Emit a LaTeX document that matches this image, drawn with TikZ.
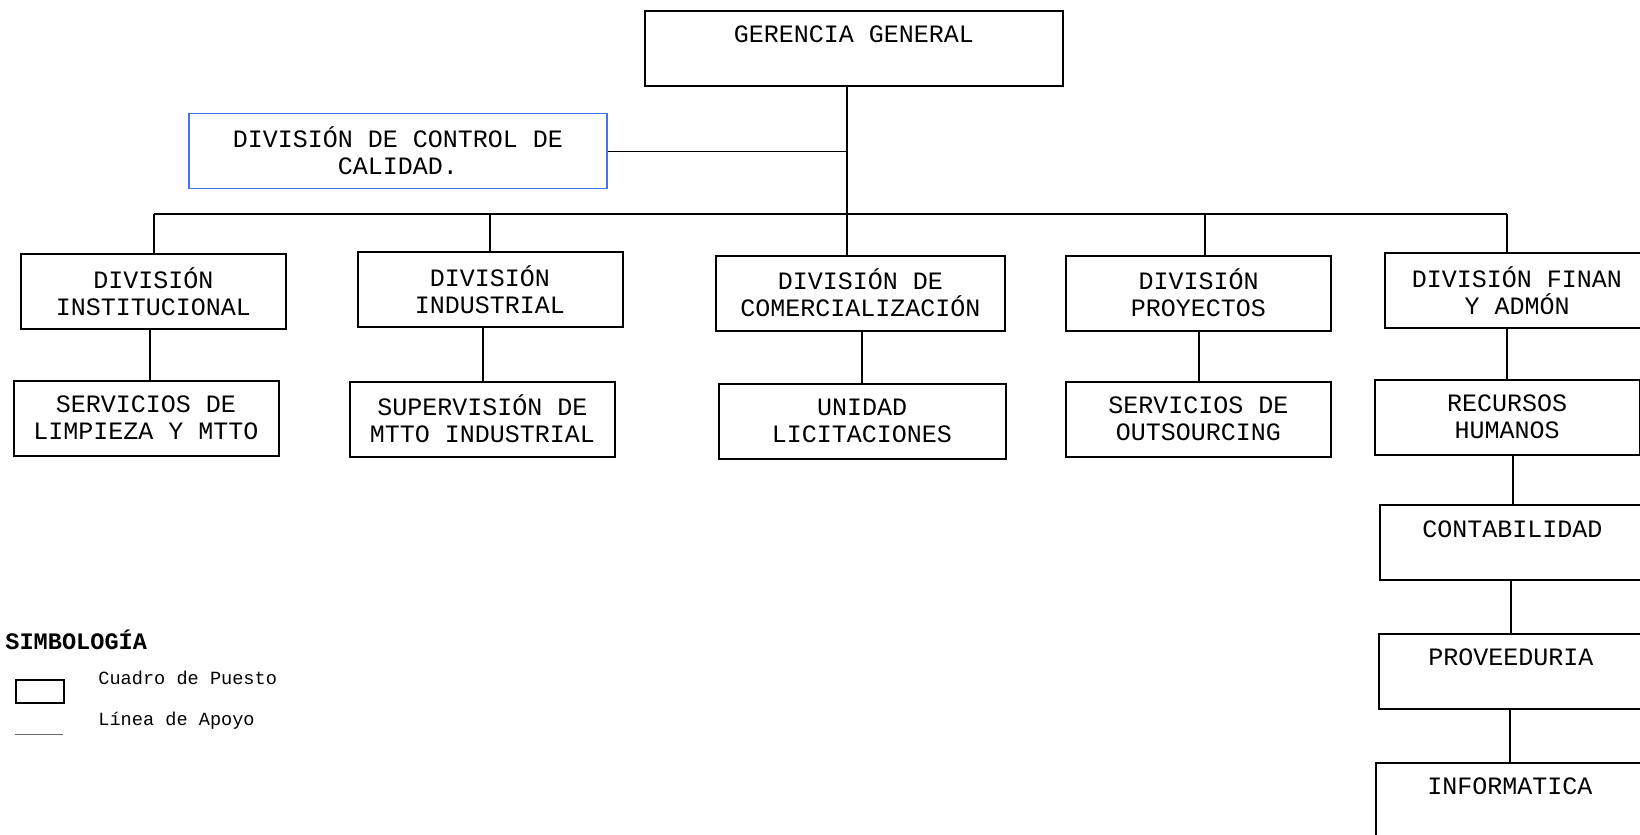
\documentclass[tikz,border=0pt]{standalone}
\usepackage{fontspec}
\setmainfont{Liberation Mono}
\usetikzlibrary{positioning}
\definecolor{calblue}{RGB}{70,115,235}

\tikzset{
  puesto/.style={draw, line width=1pt, align=center, inner sep=0pt,
    minimum width=132.5pt, minimum height=37.5pt,
    font=\fontsize{12.5}{13.6}\selectfont},
  apoyo/.style={line width=1pt},
  linea/.style={line width=0.5pt}
}

\begin{document}
\begin{tikzpicture}[x=0.5pt, y=-0.5pt]
			\useasboundingbox (0,0) rectangle (1640,835);

			% Draw the top box
			\node[puesto, minimum width=209pt] (ger) at (854,48) {GERENCIA GENERAL\\ \mbox{}};
			\node[puesto, minimum width=209pt, draw=calblue, line width=0.75pt] (cal) at (398,151) {DIVISIÓN DE CONTROL DE\\CALIDAD.};

			% Draw the divisions
			\node[puesto] (inst) at (153.5,291.5) {DIVISIÓN\\INSTITUCIONAL};
			\node[puesto] (ind) at (490,289.5) {DIVISIÓN\\INDUSTRIAL};
			\node[puesto, minimum width=144.5pt] (com) at (860.5,293) {DIVISIÓN DE\\COMERCIALIZACIÓN};
			\node[puesto] (proy) at (1198.5,293) {DIVISIÓN\\PROYECTOS};
			\node[puesto] (fin) at (1517,290.5) {DIVISIÓN FINAN\\Y ADMÓN};

			% Draw the units below
			\node[puesto] (lim) at (146,418) {SERVICIOS DE\\LIMPIEZA Y MTTO};
			\node[puesto] (sup) at (482.5,419) {SUPERVISIÓN DE\\MTTO INDUSTRIAL};
			\node[puesto, minimum width=143.5pt] (lic) at (862,421) {UNIDAD\\LICITACIONES};
			\node[puesto] (out) at (1198.5,419) {SERVICIOS DE\\OUTSOURCING};
			\node[puesto] (rrhh) at (1507,417) {RECURSOS\\HUMANOS};
			\node[puesto] (cont) at (1512.5,542.5) {CONTABILIDAD\\ \mbox{}};
			\node[puesto] (prov) at (1511,671) {PROVEEDURIA\\ \mbox{}};
			\node[puesto, minimum width=134pt] (info) at (1510,800) {INFORMATICA\\ \mbox{}};

			% Draw the trunk and the bus
			\coordinate (trunk) at (847,214);
			\coordinate (busL) at (154,214);
			\coordinate (busR) at (1507,214);
			\draw[apoyo] (trunk |- ger.south) -- (trunk |- com.north);
			\draw[apoyo] (busL) -- (busR);
			\draw[linea] (cal.east) -- (cal.east -| trunk);

			% Draw the drops to the divisions
			\draw[apoyo] (busL) -- (busL |- inst.north);
			\draw[apoyo] (ind.north) -- (ind.north |- busL);
			\draw[apoyo] (proy.north) ++(6.5,0) coordinate (proyN) -- (proyN |- busL);
			\draw[apoyo] (busR) -- (busR |- fin.north);

			% Draw the lines to the units
			\draw[apoyo] (lim.north) ++(4,0) coordinate (limN) -- (limN |- inst.south);
			\draw[apoyo] (sup.north) -- (sup.north |- ind.south);
			\draw[apoyo] (lic.north) -- (lic.north |- com.south);
			\draw[apoyo] (out.north) -- (out.north |- proy.south);
			\draw[apoyo] (rrhh.north) -- (rrhh.north |- fin.south);
			\draw[apoyo] (cont.north) -- (cont.north |- rrhh.south);
			\draw[apoyo] (prov.north) -- (prov.north |- cont.south);
			\draw[apoyo] (info.north) -- (info.north |- prov.south);

			% Draw the legend
			\node[anchor=west, inner sep=0pt, font=\fontsize{11.8}{13}\selectfont\bfseries] (simb) at (5,640) {SIMBOLOGÍA};
			\node[draw, line width=1pt, minimum width=24pt, minimum height=11.5pt, inner sep=0pt] (cuadro) at (40,691.5) {};
			\node[anchor=west, inner sep=0pt, font=\fontsize{9.3}{11}\selectfont] (tcuadro) at (98,678) {Cuadro de Puesto};
			\node[anchor=west, inner sep=0pt, font=\fontsize{9.3}{11}\selectfont] (tlinea) at (98,720.5) {Línea de Apoyo};
			\coordinate (lineaA) at (14.5,734);
			\coordinate (lineaB) at (63,734);
			\draw[linea, black!60] (lineaA) -- (lineaB);

		\end{tikzpicture}
\end{document}
